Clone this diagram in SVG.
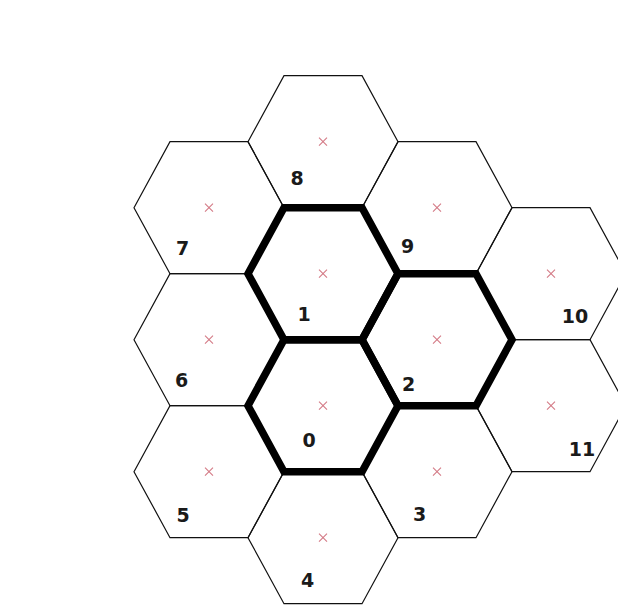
<svg xmlns="http://www.w3.org/2000/svg" width="618" height="608" viewBox="0 0 618 608">
<style>
.thin{fill:none;stroke:#111;stroke-width:1.2;stroke-linejoin:miter}
.thick{fill:none;stroke:#000;stroke-width:7.5;stroke-linejoin:miter;stroke-miterlimit:10}
.x{stroke:#d47a86;stroke-width:1.1;fill:none}
.lbl{font-family:"DejaVu Sans",Verdana,sans-serif;font-weight:bold;font-size:19px;fill:#1a1a1a;text-anchor:middle}
</style>
<defs>
<path id="xm" class="x" d="M-4,-4L4,4M-4,4L4,-4"/>
</defs>
<rect width="618" height="608" fill="#fff"/>
<g id="hex3"><polygon class="thin" points="362,471.7 398,405.7 476,405.7 512,471.7 476,537.7 398,537.7"/><use href="#xm" x="437" y="471.7"/><text class="lbl" x="419.5" y="521">3</text></g>
<g id="hex4"><polygon class="thin" points="248,537.7 284,471.7 362,471.7 398,537.7 362,603.7 284,603.7"/><use href="#xm" x="323" y="537.7"/><text class="lbl" x="307.5" y="587">4</text></g>
<g id="hex5"><polygon class="thin" points="134,471.7 170,405.7 248,405.7 284,471.7 248,537.7 170,537.7"/><use href="#xm" x="209" y="471.7"/><text class="lbl" x="183" y="522">5</text></g>
<g id="hex6"><polygon class="thin" points="134,339.7 170,273.7 248,273.7 284,339.7 248,405.7 170,405.7"/><use href="#xm" x="209" y="339.7"/><text class="lbl" x="181.5" y="386.5">6</text></g>
<g id="hex7"><polygon class="thin" points="134,207.7 170,141.7 248,141.7 284,207.7 248,273.7 170,273.7"/><use href="#xm" x="209" y="207.7"/><text class="lbl" x="182.5" y="255">7</text></g>
<g id="hex8"><polygon class="thin" points="248,141.7 284,75.7 362,75.7 398,141.7 362,207.7 284,207.7"/><use href="#xm" x="323" y="141.7"/><text class="lbl" x="297" y="185">8</text></g>
<g id="hex9"><polygon class="thin" points="362,207.7 398,141.7 476,141.7 512,207.7 476,273.7 398,273.7"/><use href="#xm" x="437" y="207.7"/><text class="lbl" x="407.5" y="253">9</text></g>
<g id="hex10"><polygon class="thin" points="476,273.7 512,207.7 590,207.7 626,273.7 590,339.7 512,339.7"/><use href="#xm" x="551" y="273.7"/><text class="lbl" x="575" y="323">10</text></g>
<g id="hex11"><polygon class="thin" points="476,405.7 512,339.7 590,339.7 626,405.7 590,471.7 512,471.7"/><use href="#xm" x="551" y="405.7"/><text class="lbl" x="582" y="456">11</text></g>
<g id="hex0"><polygon class="thick" points="248,405.7 284,339.7 362,339.7 398,405.7 362,471.7 284,471.7"/><use href="#xm" x="323" y="405.7"/><text class="lbl" x="309" y="447">0</text></g>
<g id="hex1"><polygon class="thick" points="248,273.7 284,207.7 362,207.7 398,273.7 362,339.7 284,339.7"/><use href="#xm" x="323" y="273.7"/><text class="lbl" x="304" y="321">1</text></g>
<g id="hex2"><polygon class="thick" points="362,339.7 398,273.7 476,273.7 512,339.7 476,405.7 398,405.7"/><use href="#xm" x="437" y="339.7"/><text class="lbl" x="408.5" y="391">2</text></g>
<g id="connectors"></g>
</svg>
